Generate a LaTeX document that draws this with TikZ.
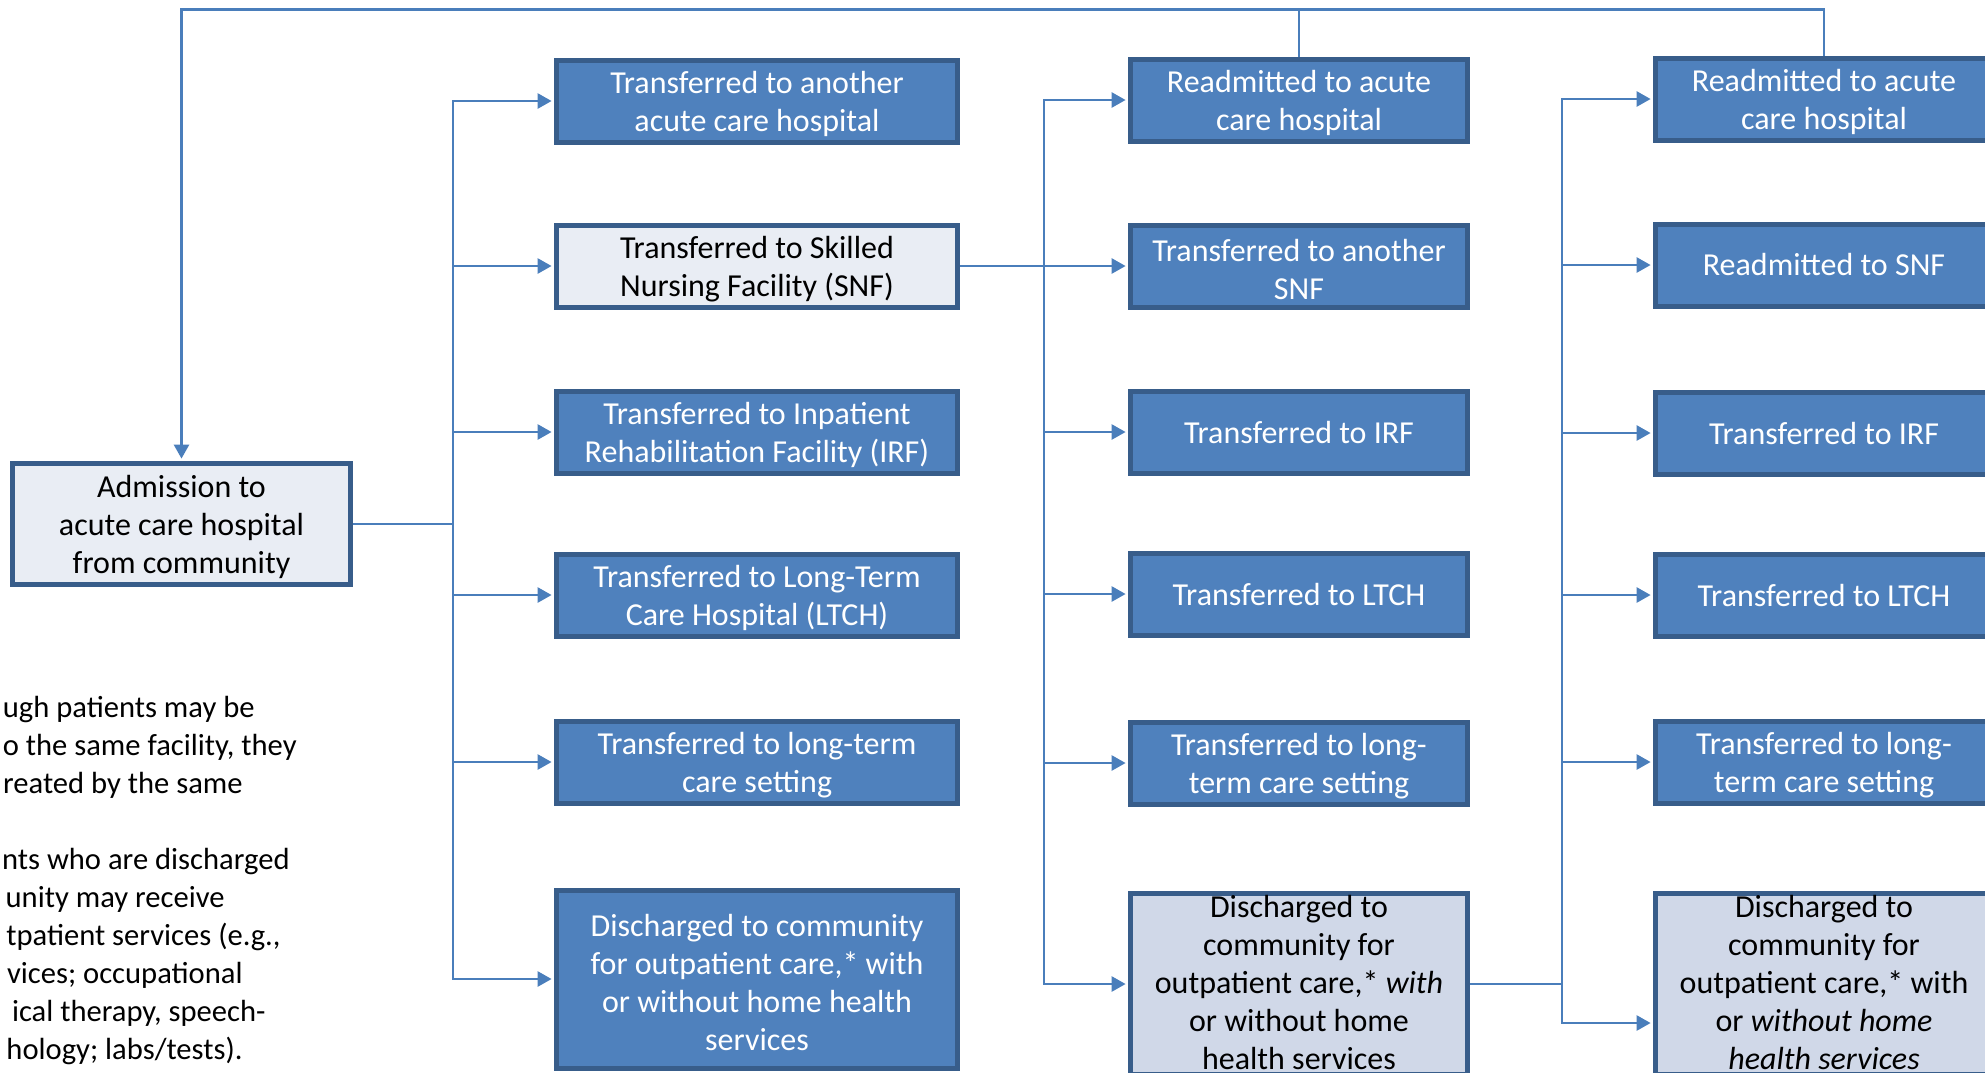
\documentclass[tikz,border=0pt]{standalone}
\usepackage{fontspec}
\setmainfont{Carlito}
\usetikzlibrary{arrows.meta}
\definecolor{blueFill}{HTML}{4F81BD}
\definecolor{blueEdge}{HTML}{385D8A}
\definecolor{lightFill}{HTML}{E9EDF4}
\definecolor{paleFill}{HTML}{D0D8E8}
\definecolor{lineBlue}{HTML}{4A7EBB}
\begin{document}
\begin{tikzpicture}[x=0.5pt,y=-0.5pt,
  box/.style={draw=blueEdge, line width=2.5pt, fill=blueFill, inner sep=0pt},
  lightbox/.style={box, fill=lightFill},
  palebox/.style={box, fill=paleFill},
  colA/.style={minimum width=200.5pt, minimum height=41pt},
  colB/.style={minimum width=168.5pt, minimum height=41pt},
  tw/.style={align=center, inner sep=0pt, text=white, font=\fontsize{16}{19}\selectfont, yshift=-1.6pt},
  tw1/.style={align=center, inner sep=0pt, text=white, font=\fontsize{16}{19}\selectfont, yshift=0pt},
  tk/.style={tw, text=black},
  tk5/.style={align=center, inner sep=0pt, text=black, font=\fontsize{16}{19}\selectfont, yshift=0.6pt},
  conn/.style={draw=lineBlue, line width=1.3pt},
  arr/.style={conn, -{Triangle[length=7pt,width=7.5pt]}, shorten >=1.2pt},
  fn/.style={anchor=base east, inner sep=0pt, font=\fontsize{15.3}{19}\selectfont}]
\useasboundingbox (0,0) rectangle (1985,1072);
\clip (0,0) rectangle (1985,1072);
\fill[white] (0,0) rectangle (1985,1072);

% admission
\node[lightbox, minimum width=169pt, minimum height=60.5pt,
  label={[tk]center:{Admission to\\acute care hospital\\from community}}] (adm) at (181.5,524) {};

% column 1
\node[box,colA,label={[tw]center:{Transferred to another\\acute care hospital}}] (c1r1) at (757,101) {};
\node[lightbox,colA,label={[tk]center:{Transferred to Skilled\\Nursing Facility (SNF)}}] (c1r2) at (757,266) {};
\node[box,colA,label={[tw]center:{Transferred to Inpatient\\Rehabilitation Facility (IRF)}}] (c1r3) at (757,432) {};
\node[box,colA,label={[tw]center:{Transferred to Long-Term\\Care Hospital (LTCH)}}] (c1r4) at (757,595) {};
\node[box,colA,label={[tw]center:{Transferred to long-term\\care setting}}] (c1r5) at (757,762) {};
\node[box,colA,minimum height=89pt,label={[tw]center:{Discharged to community\\for outpatient care,* with\\or without home health\\services}}] (c1r6) at (757,979) {};

% column 2
\node[box,colB,label={[tw]center:{Readmitted to acute\\care hospital}}] (c2r1) at (1299,100) {};
\node[box,colB,label={[tw]center:{Transferred to another\\SNF}}] (c2r2) at (1299,266) {};
\node[box,colB,label={[tw1]center:{Transferred to IRF}}] (c2r3) at (1299,432) {};
\node[box,colB,label={[tw1]center:{Transferred to LTCH}}] (c2r4) at (1299,594) {};
\node[box,colB,label={[tw]center:{Transferred to long-\\term care setting}}] (c2r5) at (1299,763) {};
\node[palebox,colB,minimum height=90.5pt,label={[tk5]center:{Discharged to\\community for\\outpatient care,* \textit{with}\\or without home\\health services}}] (c2r6) at (1299,984) {};

% column 3
\node[box,colB,label={[tw]center:{Readmitted to acute\\care hospital}}] (c3r1) at (1824,99) {};
\node[box,colB,label={[tw1]center:{Readmitted to SNF}}] (c3r2) at (1824,265) {};
\node[box,colB,label={[tw1]center:{Transferred to IRF}}] (c3r3) at (1824,433) {};
\node[box,colB,label={[tw1]center:{Transferred to LTCH}}] (c3r4) at (1824,595) {};
\node[box,colB,label={[tw]center:{Transferred to long-\\term care setting}}] (c3r5) at (1824,762) {};
\node[palebox,colB,minimum height=90.5pt,label={[tk5]center:{Discharged to\\community for\\outpatient care,* with\\or \textit{without home}\\\textit{health services}}}] (c3r6) at (1824,984) {};

% connectors
\coordinate (b1) at (453,524);
\coordinate (b2) at (1044,266);
\coordinate (b3) at (1562,984);
\coordinate (top) at (181.5,9.5);

\draw[conn] (adm.east) -- (b1);
\foreach \n in {c1r1,c1r2,c1r3,c1r4,c1r5,c1r6} \draw[arr] (b1) |- (\n.west);

\draw[conn] (c1r2.east) -- (b2);
\foreach \n in {c2r1,c2r2,c2r3,c2r4,c2r5,c2r6} \draw[arr] (b2) |- (\n.west);

\draw[conn] (c2r6.east) -- (b3);
\foreach \n in {c3r1,c3r2,c3r3,c3r4,c3r5} \draw[arr] (b3) |- (\n.west);
\draw[arr] (b3) |- ([yshift=-19.5pt]c3r6.west);

\draw[arr] (c2r1.north) |- (top) -- (adm.north);
\draw[conn] (c3r1.north) |- (c2r1.north |- top);

% footnote text (cut off at the left edge)
\node[fn] (fn1) at (255,717) {ugh patients may be};
\node[fn] (fn2) at (297,755) {o the same facility, they};
\node[fn] (fn3) at (243,793) {reated by the same};
\node[fn] (fn4) at (290,869) {nts who are discharged};
\node[fn] (fn5) at (225,907) {unity may receive};
\node[fn] (fn6) at (281,945) {tpatient services (e.g.,};
\node[fn] (fn7) at (243,983) {vices; occupational};
\node[fn] (fn8) at (266,1021) {ical therapy, speech-};
\node[fn] (fn9) at (243,1059) {hology; labs/tests).};
\end{tikzpicture}
\end{document}
